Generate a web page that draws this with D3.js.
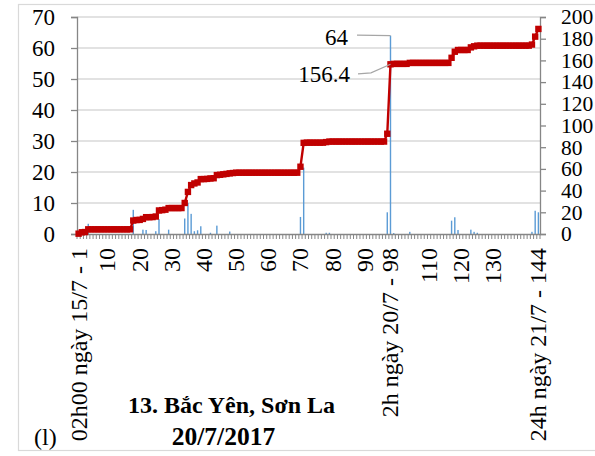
<!DOCTYPE html>
<html><head><meta charset="utf-8">
<script src="https://cdn.jsdelivr.net/npm/d3@7"></script>
<style>
html,body{margin:0;padding:0;background:#fff;}
svg{display:block;}
text{font-family:"Liberation Serif","Times New Roman",serif;fill:#000;}
</style></head>
<body>
<svg id="c" width="595" height="456"></svg>
<script>
// ---- data ----
const categories = d3.range(1, 145);
const rainfall = [
  0.2,0.9,0.2,3.3,0,0,0,0,0,0,
  0,0,0,0,0,0,0,7.8,0,0,
  1.4,1.3,0,0,0.9,4.8,0,0,1.4,0,
  0,0,0,5.0,10.0,6.5,0.9,1.2,2.5,0,
  0,0.4,0,2.7,0,0,0,0.8,0,0,
  0,0,0,0,0,0,0,0,0,0,
  0,0,0,0,0,0,0,0,0,5.5,
  21.4,0,0,0,0,0,0,0.4,0.4,0,
  0,0,0,0,0,0,0,0,0,0,
  0,0,0,0,0,0,7.0,64,0.3,0,
  0,0,0,0.7,0,0,0,0,0,0,
  0,0,0,0,0,0,4.3,5.4,1.3,0,
  0,0,1.4,0.7,0.4,0,0,0,0,0,
  0,0,0,0,0,0,0,0,0,0,
  0,0.7,7.5,7.0
];
const cumulative = [
  0.3,1.6,1.8,4.3,4.3,4.3,4.3,4.3,4.3,4.3,
  4.3,4.3,4.3,4.3,4.3,4.3,4.3,12.4,12.9,13.0,
  13.9,15.5,15.5,15.6,16.1,21.7,22.0,22.4,23.9,23.9,
  23.9,23.9,23.9,28.6,38.8,45.1,46.6,47.5,50.6,50.6,
  50.8,51.2,51.4,54.3,54.6,55.0,55.4,55.9,56.2,56.5,
  56.5,56.5,56.5,56.5,56.5,56.5,56.5,56.5,56.5,56.5,
  56.5,56.5,56.5,56.5,56.5,56.5,56.5,56.5,56.5,62.0,
  84.0,84.2,84.2,84.2,84.2,84.2,84.2,84.7,85.2,85.2,
  85.2,85.2,85.2,85.2,85.2,85.2,85.2,85.2,85.2,85.2,
  85.2,85.2,85.2,85.2,85.2,85.2,92.4,156.4,156.8,156.8,
  156.8,156.8,156.8,157.7,157.7,157.7,157.7,157.7,157.7,157.7,
  157.7,157.7,157.7,157.7,157.7,157.7,162.4,168.0,169.6,169.6,
  169.6,169.6,172.0,173.0,173.6,173.6,173.6,173.6,173.6,173.6,
  173.6,173.6,173.6,173.6,173.6,173.6,173.6,173.6,173.6,173.6,
  173.6,174.6,181.9,189.0
];
const leftTicks = [0,10,20,30,40,50,60,70];
const rightTicks = [0,20,40,60,80,100,120,140,160,180,200];
const labelCats = [1,10,20,30,40,50,60,70,80,90,98,110,120,130,144];
const labelText = {1:"02h00 ngày 15/7 - 1", 98:"2h ngày 20/7 - 98", 144:"24h ngày 21/7 - 144"};
const annotations = [
  {cat:98, value:64, axis:"left", text:"64"},
  {cat:98, value:156.4, axis:"right", text:"156.4"}
];
const titleLines = ["13. Bắc Yên, Sơn La", "20/7/2017"];
const panelTag = "(l)";

// ---- layout ----
const svg = d3.select("#c");
const X0 = 77, X1 = 540, Y0 = 234, Y1 = 17;
const x = d3.scaleBand().domain(categories).range([X0, X1]).padding(0);
const yL = d3.scaleLinear().domain([0,70]).range([Y0, Y1]);
const yR = d3.scaleLinear().domain([0,200]).range([Y0, Y1]);
const cx = c => x(c) + x.bandwidth()/2;

// frame
svg.append("rect").attr("x",18.5).attr("y",4.5).attr("width",640).attr("height",446)
  .attr("fill","none").attr("stroke","#d9d9d9").attr("stroke-width",1.2);

// gridlines
svg.append("g").selectAll("line").data(leftTicks.filter(d=>d>0)).join("line")
  .attr("x1",X0).attr("x2",X1).attr("y1",d=>yL(d)).attr("y2",d=>yL(d))
  .attr("stroke","#d9d9d9").attr("stroke-width",1.5);

// bars
svg.append("g").selectAll("rect").data(categories).join("rect")
  .attr("x",c=>cx(c)-0.7).attr("width",1.4)
  .attr("y",(c,i)=>yL(rainfall[i])).attr("height",(c,i)=>Y0-yL(rainfall[i]))
  .attr("fill","#5b9bd5");

// axes
const axL = svg.append("g").attr("transform",`translate(${X0},0)`)
  .call(d3.axisLeft(yL).tickValues(leftTicks).tickSize(6).tickPadding(16).tickFormat(d3.format("d")));
const axR = svg.append("g").attr("transform",`translate(${X1},0)`)
  .call(d3.axisRight(yR).tickValues(rightTicks).tickSize(6).tickPadding(15).tickFormat(d3.format("d")));
[axL, axR].forEach(a=>{
  a.select(".domain").attr("stroke","#868686").attr("stroke-width",1.3);
  a.selectAll(".tick line").attr("stroke","#868686").attr("stroke-width",1.3);
  a.selectAll("text").attr("font-family","Liberation Serif").attr("font-size",23).attr("fill","#000");
});
axR.selectAll("text").attr("font-size",21.5);

// x axis: category boundary ticks
const bounds = categories.map(c=>x(c)).concat([X1]);
svg.append("g").selectAll("line").data(bounds).join("line")
  .attr("x1",d=>d).attr("x2",d=>d).attr("y1",Y0).attr("y2",Y0+5)
  .attr("stroke","#868686").attr("stroke-width",1);
const axB = svg.append("g").attr("transform",`translate(0,${Y0})`)
  .call(d3.axisBottom(x).tickValues(labelCats).tickSize(0).tickFormat(c=>labelText[c]||String(c)));
axB.select(".domain").attr("stroke","#868686").attr("stroke-width",1.5);
axB.selectAll("text")
  .attr("font-family","Liberation Serif").attr("font-size",24).attr("fill","#000")
  .attr("text-anchor","end").attr("transform","translate(0,14) rotate(-90)")
  .attr("x",0).attr("y",0).attr("dy","0.33em");

// cumulative line
const line = d3.line().x((c)=>cx(c)).y((c,i)=>yR(cumulative[i]));
svg.append("path").datum(categories).attr("d",line)
  .attr("fill","none").attr("stroke","#c00000").attr("stroke-width",2.4);
svg.append("g").selectAll("rect").data(categories).join("rect")
  .attr("x",c=>cx(c)-3.2).attr("y",(c,i)=>yR(cumulative[i])-3.2)
  .attr("width",6.4).attr("height",6.4).attr("fill","#c00000");

// annotations with leader lines
annotations.forEach(a=>{
  const px = cx(a.cat), py = (a.axis==="left"?yL:yR)(a.value);
  if (a.axis==="left") {
    svg.append("polyline").attr("points",`357,${py-0.5} ${px},${py}`)
      .attr("fill","none").attr("stroke","#a6a6a6").attr("stroke-width",1.2);
    svg.append("text").attr("x",348).attr("y",py+9).attr("text-anchor","end")
      .attr("font-size",23).text(a.text);
  } else {
    svg.append("polyline").attr("points",`358,${py+9.5} 371,${py+8.5} ${px},${py}`)
      .attr("fill","none").attr("stroke","#a6a6a6").attr("stroke-width",1.2);
    svg.append("text").attr("x",350).attr("y",py+18).attr("text-anchor","end")
      .attr("font-size",23).text(a.text);
  }
});

// title
svg.append("text").attr("x",231.5).attr("y",413).attr("text-anchor","middle")
  .attr("font-size",24).attr("font-weight","bold").text(titleLines[0]);
svg.append("text").attr("x",223.5).attr("y",445).attr("text-anchor","middle")
  .attr("font-size",25.5).attr("font-weight","bold").text(titleLines[1]);
svg.append("text").attr("x",34).attr("y",445).attr("font-size",24).text(panelTag);
</script>
</body></html>
